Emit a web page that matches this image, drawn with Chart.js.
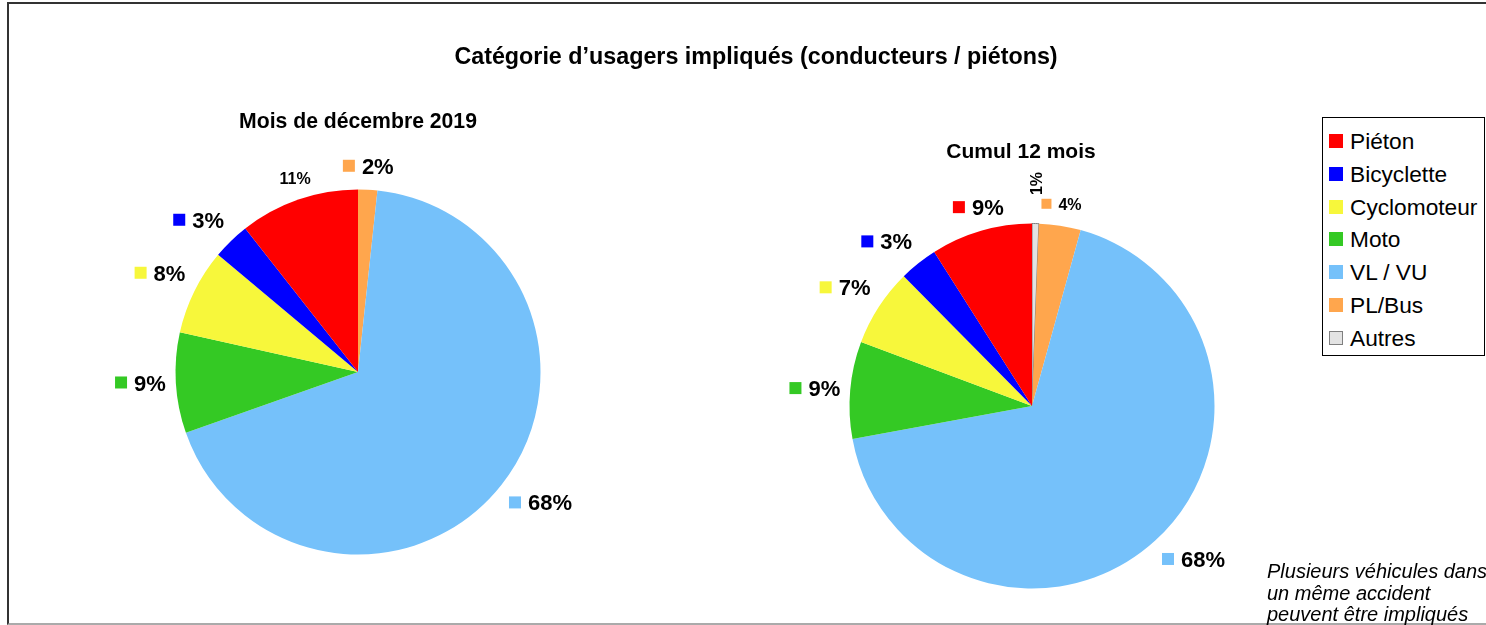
<!DOCTYPE html>
<html>
<head>
<meta charset="utf-8">
<script src="https://cdn.jsdelivr.net/npm/chart.js@4.4.1/dist/chart.umd.min.js"></script>
<style>
  body { margin:0; width:1486px; height:625px; overflow:hidden; background:#fff;
         font-family:"Liberation Sans", Arial, sans-serif; }
  .frame { position:absolute; left:7px; top:2px; width:1500px; height:619px;
           border-top:2px solid #333; border-left:2px solid #333; border-bottom:2px solid #aaa; }
  canvas { position:absolute; left:0; top:0; }
  .t { position:absolute; font-weight:bold; white-space:nowrap; transform:translate(-50%,-50%); }
  .legend { position:absolute; left:1322px; top:117px; width:161px; height:237px;
            border:1px solid #000; background:#fff; }
  .legend div { position:absolute; left:6px; height:26px; font-size:22.7px; line-height:26px; white-space:nowrap; }
  .legend span { display:inline-block; width:12px; height:12px; border:1px solid; margin-right:7px; vertical-align:1px; }
  .note { position:absolute; left:1267px; top:561px; font-size:20px; font-style:italic;
          line-height:21.5px; white-space:nowrap; }
</style>
</head>
<body>
<div class="frame"></div>
<canvas id="left" width="1486" height="625"></canvas>
<canvas id="right" width="1486" height="625"></canvas>
<div class="t" style="left:756px;top:56px;font-size:23.3px">Catégorie d’usagers impliqués (conducteurs / piétons)</div>
<div class="t" style="left:358px;top:121px;font-size:21.2px">Mois de décembre 2019</div>
<div class="t" style="left:1021px;top:151px;font-size:21px">Cumul 12 mois</div>
<div class="legend" id="legend"></div>
<div class="note">Plusieurs véhicules dans<br>un même accident<br>peuvent être impliqués</div>
<script>
// categories in legend order
var categories = ['Piéton', 'Bicyclette', 'Cyclomoteur', 'Moto', 'VL / VU', 'PL/Bus', 'Autres'];
var colors = ['#ff0000', '#0000ff', '#f7f73b', '#34c924', '#75c1fa', '#ffa64d', '#e3e3e3'];
var borders = ['#ff0000', '#0000ff', '#f7f73b', '#34c924', '#75c1fa', '#ffa64d', '#7f7f7f'];

// shares in %
var decembre = [10.6, 3.3, 7.6, 8.9, 67.9, 1.7, 0];
var cumul12 = [9.0, 3.4, 6.9, 8.6, 67.8, 3.7, 0.6];

// legend
var leg = document.getElementById('legend');
categories.forEach(function (c, i) {
  var d = document.createElement('div');
  d.style.top = (10 + i * 32.8) + 'px';
  d.innerHTML = '<span style="background:' + colors[i] + ';border-color:' + borders[i] + '"></span>' + c;
  leg.appendChild(d);
});

// pie draws clockwise from the top: Autres, PL/Bus, VL/VU ... Piéton
function rev(a) { return a.slice().reverse(); }

var outerLabels = {
  id: 'outerLabels',
  afterDatasetsDraw: function (chart, args, opts) {
    var ctx = chart.ctx;
    var ds = chart.data.datasets[0];
    var total = ds.data.reduce(function (a, b) { return a + b; }, 0);
    chart.getDatasetMeta(0).data.forEach(function (arc, i) {
      var v = ds.data[i];
      if (!v) return;
      var cat = chart.data.labels[i];
      var p = arc.getProps(['x', 'y', 'startAngle', 'endAngle', 'outerRadius'], true);
      var mid = (p.startAngle + p.endAngle) / 2;
      var dx = Math.cos(mid), dy = Math.sin(mid);
      var txt = Math.round(v / total * 100) + '%';
      var small = opts.small.indexOf(cat) >= 0;
      var noBox = opts.noBox.indexOf(cat) >= 0;
      ctx.save();
      ctx.fillStyle = '#000';
      ctx.font = 'bold ' + (small ? 16 : 22) + 'px "Liberation Sans", Arial, sans-serif';
      ctx.textBaseline = 'middle';
      if (opts.rotated.indexOf(cat) >= 0) {
        ctx.translate(p.x + (p.outerRadius + 40) * dx, p.y + (p.outerRadius + 40) * dy);
        ctx.rotate(-Math.PI / 2);
        ctx.textAlign = 'center';
        ctx.fillText(txt, 0, 1);
        ctx.restore();
        return;
      }
      var sq = small ? 10 : 12;
      var h = small ? 16 : 20;
      var tw = ctx.measureText(txt).width;
      var w = tw + (noBox ? 0 : sq + 7);
      var px = p.x + (p.outerRadius + 10) * dx;
      var py = p.y + (p.outerRadius + 10) * dy;
      var left = Math.abs(dx) < 0.4 ? px - w / 2 : (dx > 0 ? px : px - w);
      var top = Math.abs(dy) < 0.4 ? py - h / 2 : (dy > 0 ? py + 2 : py - h - 3);
      var cy = top + h / 2;
      var tx = left;
      if (!noBox) {
        ctx.fillStyle = ds.backgroundColor[i];
        ctx.fillRect(left, cy - sq / 2 - 1, sq, sq);
        tx = left + sq + 7;
      }
      ctx.fillStyle = '#000';
      ctx.textAlign = 'left';
      ctx.fillText(txt, tx, cy + 1);
      ctx.restore();
    });
  }
};

function makePie(id, values, padding, small, noBox, rotated) {
  return new Chart(document.getElementById(id), {
    type: 'pie',
    data: {
      labels: rev(categories),
      datasets: [{
        data: rev(values),
        backgroundColor: rev(colors),
        borderColor: rev(borders),
        borderWidth: rev([0, 0, 0, 0, 0, 0, 1])
      }]
    },
    options: {
      responsive: false,
      animation: false,
      layout: { padding: padding },
      plugins: {
        legend: { display: false },
        tooltip: { enabled: false },
        outerLabels: { small: small, noBox: noBox, rotated: rotated }
      }
    },
    plugins: [outerLabels]
  });
}

makePie('left', decembre, { left: 175, top: 189, right: 945, bottom: 70 }, ['Piéton'], ['Piéton'], []);
makePie('right', cumul12, { left: 849, top: 223, right: 271, bottom: 36 }, ['PL/Bus', 'Autres'], ['Autres'], ['Autres']);
</script>
</body>
</html>
